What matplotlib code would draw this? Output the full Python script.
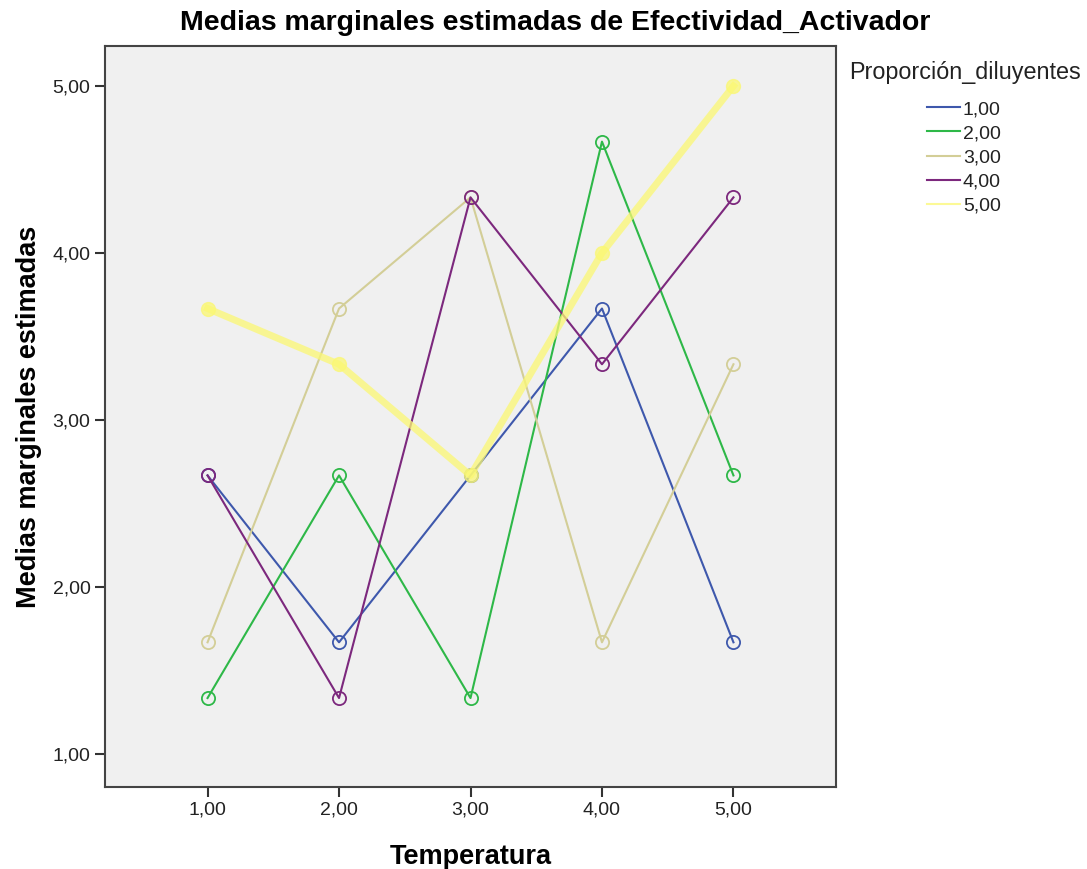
import matplotlib.pyplot as plt

plt.rcParams['font.family'] = ['Liberation Sans', 'DejaVu Sans']

temperatura = [1, 2, 3, 4, 5]
tick_labels = ['1,00', '2,00', '3,00', '4,00', '5,00']
y_ticks = [1, 2, 3, 4, 5]
groups = ['1,00', '2,00', '3,00', '4,00', '5,00']
medias_1 = [2.667, 1.667, 2.667, 3.667, 1.667]
medias_2 = [1.333, 2.667, 1.333, 4.667, 2.667]
medias_3 = [1.667, 3.667, 4.333, 1.667, 3.333]
medias_4 = [2.667, 1.333, 4.333, 3.333, 4.333]
medias_5 = [3.667, 3.333, 2.667, 4.000, 5.000]
series = [medias_1, medias_2, medias_3, medias_4, medias_5]

colors = ['#3E58AC', '#2EB848', '#D3CE97', '#7C287D', '#FBF873']
widths = [1.5, 1.5, 1.5, 1.5, 5]

fig = plt.figure(figsize=(10.87, 8.69), dpi=100)
ax = fig.add_axes([105 / 1087, 1 - 787 / 869, 731 / 1087, 741 / 869])
ax.set_facecolor('#F0F0F0')

for name, vals, c, lw in zip(groups, series, colors, widths):
    if lw > 2:
        ax.plot(temperatura, vals, color=c, lw=lw, alpha=0.75, marker='o',
                markersize=10, markerfacecolor=c, markeredgecolor=c, label=name)
    else:
        ax.plot(temperatura, vals, color=c, lw=lw, marker='o', markersize=9.5,
                markerfacecolor='none', markeredgecolor=c, markeredgewidth=1.3,
                label=name)

ax.set_xlim(0.22, 5.78)
ax.set_ylim(0.8, 5.24)
ax.set_xticks(temperatura)
ax.set_xticklabels(tick_labels)
ax.set_yticks(y_ticks)
ax.set_yticklabels(tick_labels)
ax.tick_params(labelsize=14, length=7.5, width=1.5, color='#333333', pad=3,
               labelcolor='#222222')
for s in ax.spines.values():
    s.set_color('#444444')
    s.set_linewidth(1.5)

ax.set_xlabel('Temperatura', fontsize=19.5, fontweight='bold', labelpad=18)
ax.set_ylabel('Medias marginales estimadas', fontsize=19.5, fontweight='bold',
              labelpad=7.5)
fig.text(555 / 1087, 1 - 23 / 869, 'Medias marginales estimadas de Efectividad_Activador',
         ha='center', va='center', fontsize=20.5, fontweight='bold')

# leyenda: titulo aparte, entradas centradas debajo
fig.text(965 / 1087, 1 - 72 / 869, 'Proporción_diluyentes', ha='center',
         va='center', fontsize=16.8, color='#222222')
leg = ax.legend(loc='center left', bbox_to_anchor=(927 / 1087, 1 - 157.5 / 869),
                bbox_transform=fig.transFigure, frameon=False, fontsize=14,
                handlelength=1.7, handletextpad=0.15, labelspacing=0.33,
                borderpad=0, borderaxespad=0, markerscale=0)
for h in leg.get_lines():
    h.set_linewidth(1.5)
    h.set_marker('')
for t in leg.get_texts():
    t.set_color('#222222')

plt.savefig('out.png')
